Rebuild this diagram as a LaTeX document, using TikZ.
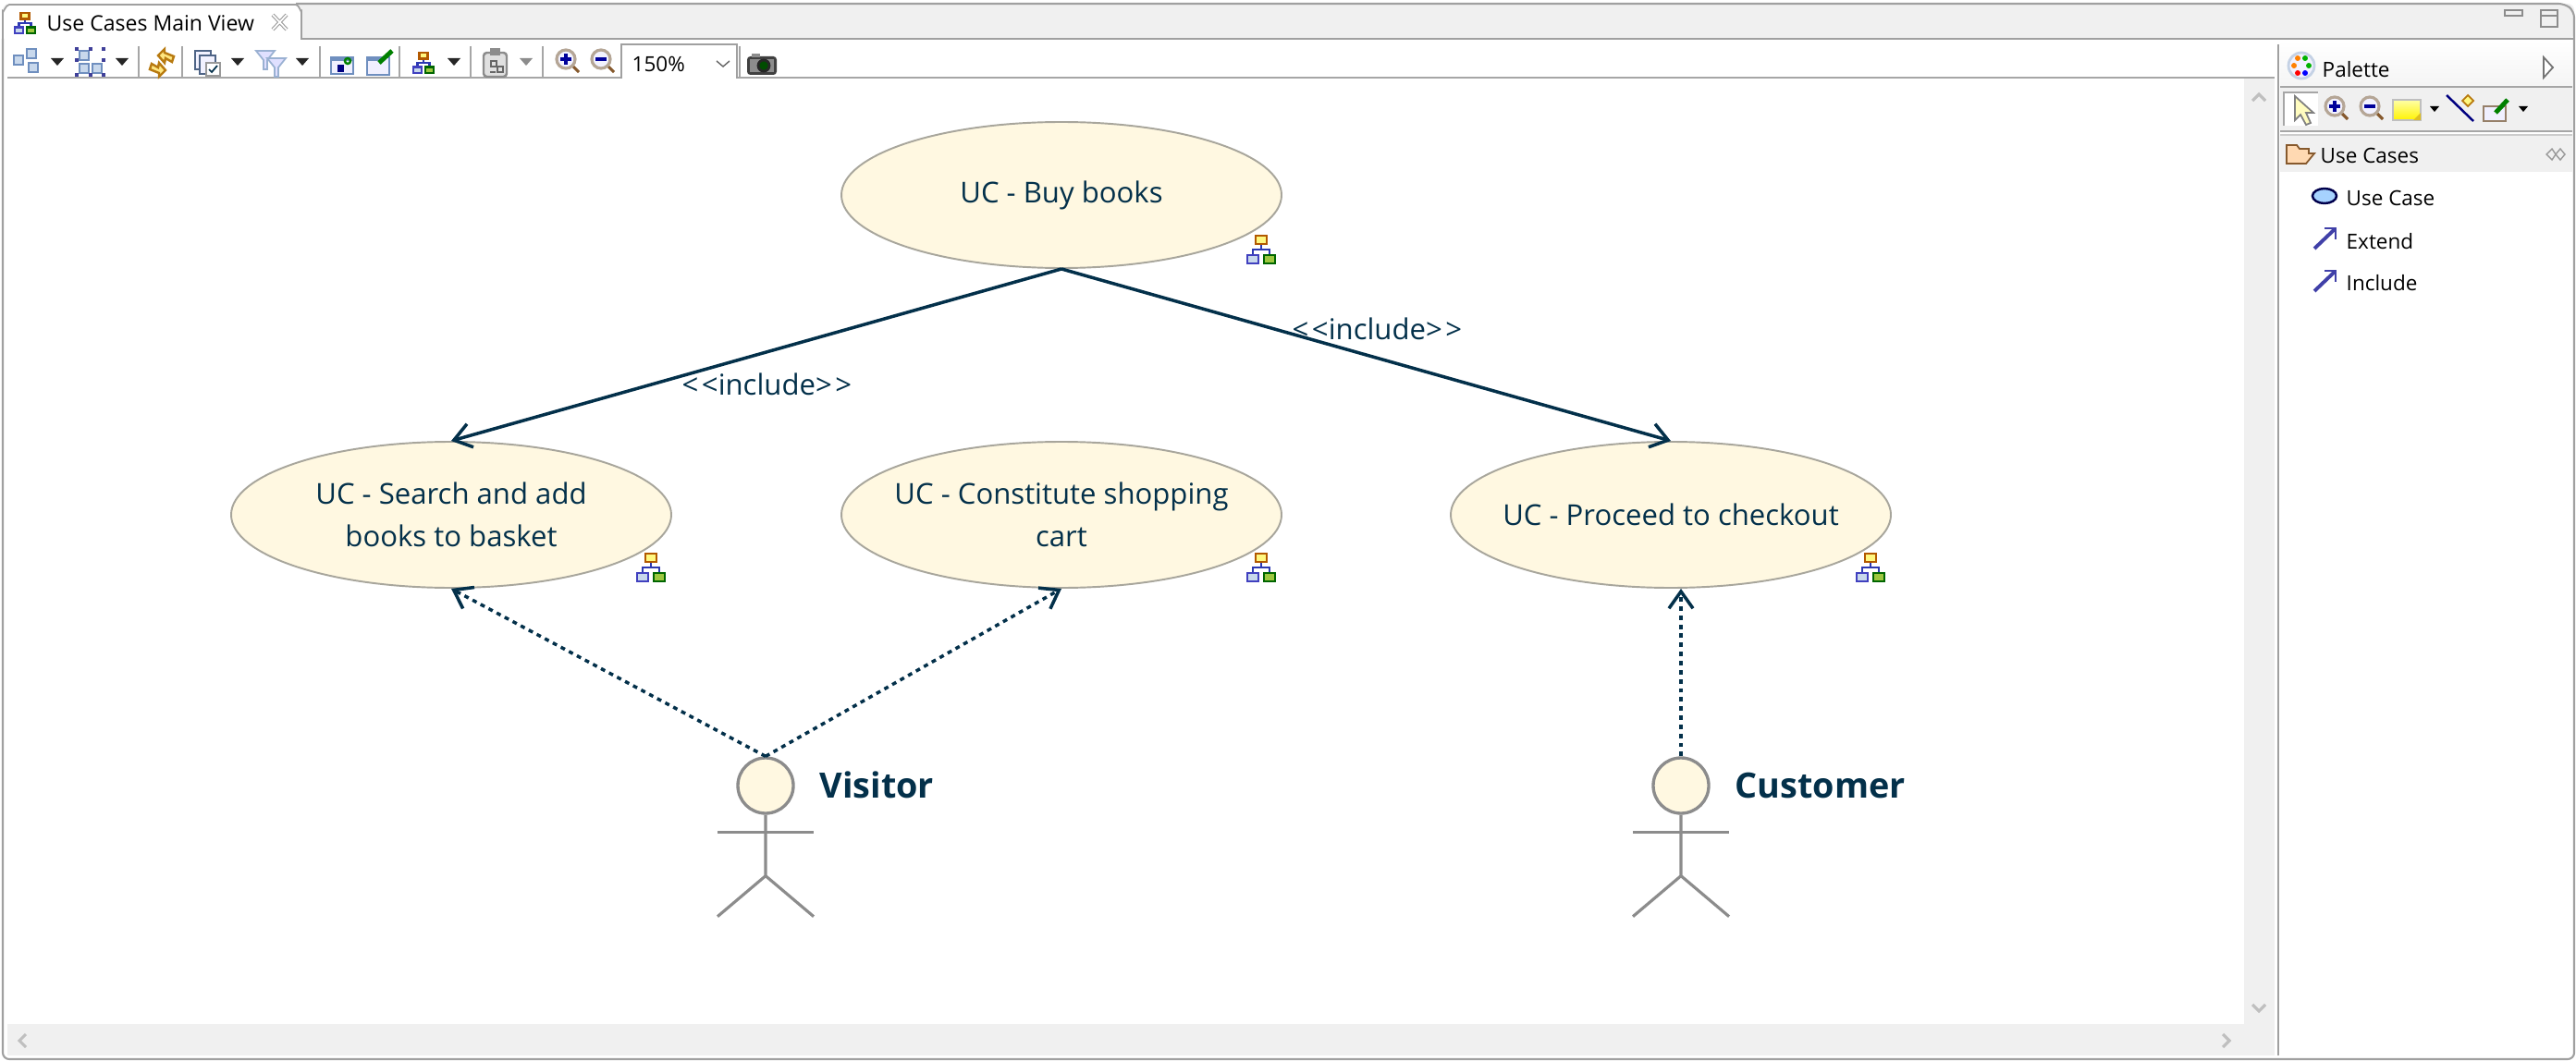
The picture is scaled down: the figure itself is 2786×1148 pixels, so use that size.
\documentclass[tikz,border=0pt]{standalone}
\usepackage{fontspec}
\setmainfont{Open Sans}
\usetikzlibrary{arrows.meta,shapes.geometric}
\definecolor{ink}{HTML}{03304A}
\definecolor{ucfill}{HTML}{FFF8E1}
\definecolor{ucline}{HTML}{A8A69C}
\definecolor{chrome}{HTML}{F0F0F0}
\definecolor{edge}{HTML}{A0A0A0}
\definecolor{iconblue}{HTML}{6F8FBF}
\definecolor{iconfill}{HTML}{C8D8EC}
\definecolor{gold}{HTML}{B87A10}
\definecolor{purple}{HTML}{4040A8}
\tikzset{
  hiertree/.pic={
    \draw[color=iconblue!50!blue!80!black, line width=.6pt] (0,-5) -- (0,0) (-9,6) -- (-9,0) -- (9,0) -- (9,6);
    \draw[draw=orange!70!black, fill=yellow!50, line width=.7pt] (-6,-15) rectangle (6,-6);
    \draw[draw=blue!50!gray, fill=iconfill, line width=.7pt] (-15,6) rectangle (-3,15);
    \draw[draw=green!40!black, fill=yellow!60!green!80!gray, line width=.7pt] (3,6) rectangle (15,15);
  },
  magglass/.pic={
    \draw[brown!70!black, line width=.9pt] (7,7) -- (14,14);
    \draw[color=brown!35!gray!70, fill=blue!5, line width=.9pt] (0,0) circle (10);
  }
}
\begin{document}
\begin{tikzpicture}[x=.1mm, y=-.1mm]
\tikzstyle{uc}=[ellipse, draw=ucline, fill=ucfill, line width=.55pt, inner sep=-2mm, minimum width=47.6mm,
                        minimum height=15.8mm, align=center, text=ink, font=\fontsize{8.85pt}{13pt}\selectfont]
\tikzstyle{lbl}=[anchor=base west, inner sep=0pt, text=ink, font=\fontsize{8.85pt}{10pt}\selectfont]
\tikzstyle{actorlbl}=[anchor=base west, inner sep=0pt, text=ink, font=\fontsize{10.75pt}{12pt}\selectfont\bfseries]
\tikzstyle{ui}=[anchor=base west, inner sep=0pt, text=black, font=\fontsize{6.4pt}{8pt}\selectfont]
\tikzstyle{head}=[circle, draw=black!45, fill=ucfill, line width=.95pt, inner sep=0pt, minimum size=6mm]
\tikzstyle{stick}=[draw=black!45, line width=.9pt]
\tikzstyle{incl}=[draw=ink, line width=1pt, -{Straight Barb[length=5.2pt,width=7.4pt]}]
\tikzstyle{assoc}=[incl, dash pattern=on 1.4pt off 1.4pt]
\tikzstyle{sep}=[draw=black!35, line width=.5pt]
\tikzstyle{chev}=[draw=black!25, line width=.9pt]
\useasboundingbox (0,0) rectangle (2786,1148);
% window frame
\fill[white] (0,0) rectangle (2786,1148);
\fill[chrome, rounded corners=2pt] (3,4) rectangle (2784,42);
\fill[chrome] (8,1108) rectangle (2460,1142);
\fill[chrome] (2427,85) rectangle (2460,1142);
\draw[fill=white, draw=edge, line width=.5pt] (3,42) -- (3,12) to[out=-90, in=180] (10,5) -- (320,5) to[out=0, in=-90] (326,12) -- (326,42) -- (2784,42);
\draw[draw=edge, line width=.6pt, rounded corners=2pt] (3,42) -- (3,1146) -- (2784,1146) -- (2784,12) -- (2774,4) -- (320,4);
\draw[sep] (8,84) -- (672,84) (797,84) -- (2460,84);
\draw[draw=edge, line width=.6pt] (2464,48) -- (2464,1142);
\draw[draw=edge, line width=.5pt, fill=white] (672,85) -- (672,48) -- (797,48) -- (797,85);
% tab
\pic at (27,25) [scale=.72] {hiertree};
\node[ui, font=\fontsize{6.55pt}{8pt}\selectfont] (tabtitle) at (50,34) {Use Cases Main View};
\draw[black!40, line width=1.1pt] (295,16) -- (310,32) (310,16) -- (295,32);
\draw[white, line width=.5pt] (295,16) -- (310,32) (310,16) -- (295,32);
\draw[draw=black!45, line width=.5pt] (2709,11) rectangle (2728,17);
\draw[draw=black!45, line width=.5pt] (2748,11) rectangle (2766,29) (2748,17) -- (2766,17);
% toolbar
\foreach \x in {150,197,346,432,509,587,800}{\draw[sep] (\x,50) -- (\x,83);}
\foreach \x in {62,132,257,327,491}{\fill[black!85] (\x-7,63) -- (\x+7,63) -- (\x,71) -- cycle;}
\fill[black!45] (562,63) -- (576,63) -- (569,71) -- cycle;
\foreach \x/\y in {20/65,34/58,36/73,91/60,91/74,105/74}{\draw[draw=iconblue, fill=iconfill, line width=.6pt] (\x-5,\y-5) rectangle (\x+5,\y+5);}
\foreach \x/\y in {83/53,98/53,112/53,83/65,112/65,83/81,98/81,112/81}{\fill[black!30!blue!50!gray] (\x-2,\y-2) rectangle (\x+2,\y+2);}
\foreach \r in {0,180}{\draw[draw=gold, fill=orange!40!yellow!50, line width=.7pt, rotate around={\r:(175,68)}] (171,60) -- (178,53) -- (178,57) -- (188,61) -- (186,67) -- (179,63) -- (178,68) -- cycle;}
\draw[draw=black!30!iconblue, fill=blue!5, line width=.6pt] (211,55) rectangle (228,75);
\draw[draw=black!30!iconblue, fill=blue!5, line width=.6pt] (216,60) rectangle (233,80);
\draw[draw=black!40, fill=white, line width=.6pt] (223,68) rectangle (238,82);
\draw[draw=ink, line width=.5pt] (226,75) -- (229,78) -- (235,71);
\foreach \x/\y in {287/55,299/63}{\draw[draw=iconblue!70, fill=blue!12, line width=.5pt] (\x-10,\y) -- (\x+10,\y) -- (\x+2,\y+10) -- (\x+2,\y+20) -- (\x-2,\y+20) -- (\x-2,\y+10) -- cycle;}
\draw[draw=iconblue, fill=blue!6, line width=.6pt] (358,62) rectangle (382,80);
\fill[iconblue] (358,62) rectangle (382,66);
\fill[black!50!blue] (365,70) rectangle (372,78);
\draw[draw=green!50!black, line width=.7pt] (376,66) circle (3);
\draw[draw=iconblue, fill=blue!6, line width=.6pt] (397,62) rectangle (421,81);
\fill[iconblue] (397,62) rectangle (415,66);
\draw[green!50!black, line width=1.4pt] (410,68) -- (424,55);
\pic at (458,68) [scale=.72] {hiertree};
\draw[draw=black!45, fill=black!12, line width=.7pt, rounded corners=1pt] (523,57) rectangle (548,83);
\fill[black!45] (530,52) rectangle (541,60);
\draw[draw=black!60, line width=.5pt] (531,66) rectangle (537,72) (538,72) rectangle (544,78) (530,78) -- (536,78);
\node[ui] (zoomlevel) at (683,78) {150\%};
\draw[black!60, line width=.4pt] (775,66) -- (782,72) -- (789,66);
\fill[black!75, rounded corners=1pt] (808,61) rectangle (840,81);
\fill[black!45] (813,58) rectangle (822,62);
\fill[black!45] (811,64) rectangle (837,78);
\draw[draw=black!85, fill=green!30!black, line width=.8pt] (826,71) circle (6);
% scroll arrows
\draw[chev] (2436,109) -- (2443,102) -- (2450,109);
\draw[chev] (2436,1087) -- (2443,1094) -- (2450,1087);
\draw[chev] (2404,1119) -- (2411,1126) -- (2404,1133);
\draw[chev] (28,1119) -- (21,1126) -- (28,1133);
% palette
\shade[top color=white, bottom color=chrome!70] (2466,44) rectangle (2782,93);
\draw[sep] (2466,94) -- (2782,94);
\fill[chrome] (2466,95) rectangle (2782,141);
\draw[sep] (2466,142) -- (2782,142);
\draw[draw=black!20, line width=.4pt] (2466,146) -- (2782,146);
\fill[chrome] (2466,147) rectangle (2782,186);
\draw[draw=iconblue!40, fill=blue!5, line width=.8pt] (2489,71) circle (14);
\foreach \x/\y/\c in {2485/63/orange,2493/63/green!70!black,2481/71/orange,2497/71/green!70!black,2485/79/red,2493/79/blue}{\fill[\c] (\x,\y) circle (3);}
\node[ui] (palettetitle) at (2511,84) {Palette};
\draw[draw=black!55, fill=white, line width=.5pt] (2751,62) -- (2761,73) -- (2751,84) -- cycle;
\fill[white] (2470,100) rectangle (2507,136);
\draw[draw=black!35, line width=.4pt] (2507,100) -- (2470,100) -- (2470,136);
\draw[draw=black!50, fill=yellow!25, line width=.5pt] (2482,104) -- (2482,130) -- (2488,124) -- (2494,135) -- (2499,133) -- (2494,122) -- (2502,122) -- cycle;
% zoom buttons, both toolbars
\foreach \x/\y in {612/64,650/64,2525/115,2563/115}{
  \pic at (\x,\y) {magglass};
  \draw[draw=blue!60!black, line width=.9pt] (\x-6,\y) -- (\x+6,\y);
}
\foreach \x/\y in {612/64,2525/115}{\draw[draw=blue!60!black, line width=.9pt] (\x,\y-6) -- (\x,\y+6);}
\shade[top color=yellow!35, bottom color=yellow!90!orange, draw=black!25, line width=.4pt] (2588,108) rectangle (2618,130);
\fill[brown!50!yellow] (2618,122) -- (2618,130) -- (2610,130) -- cycle;
\foreach \x in {2633,2729}{\fill[black] (\x-5,115) -- (\x+5,115) -- (\x,121) -- cycle;}
\draw[draw=blue!50!black, line width=.7pt] (2646,103) -- (2675,131);
\draw[draw=gold, fill=yellow!50, line width=.5pt] (2669,103) -- (2675,109) -- (2669,115) -- (2663,109) -- cycle;
\draw[draw=brown!35!gray, fill=blue!6, line width=.6pt] (2686,115) rectangle (2710,131);
\draw[green!50!black, line width=1.4pt] (2699,122) -- (2712,108);
\draw[draw=brown!70!black, fill=orange!30, line width=.5pt] (2473,177) -- (2473,157) -- (2484,157) -- (2487,161) -- (2497,161) -- (2497,166) -- (2503,166) -- (2494,177) -- cycle;
\node[ui] (ucgroup) at (2509,177) {Use Cases};
\draw[draw=black!40, line width=.4pt] (2754,167) -- (2760,161) -- (2764,167) -- (2760,173) -- cycle (2764,167) -- (2769,161) -- (2774,167) -- (2769,173) -- cycle;
\draw[draw=black!70!blue, fill=blue!50!cyan!35, line width=.7pt] (2514,212) ellipse (13 and 8);
\node[ui] (toolcase) at (2537,223) {Use Case};
\node[ui] (toolextend) at (2537,269) {Extend};
\node[ui] (toolinclude) at (2537,315) {Include};
\foreach \y in {269,315}{
  \draw[purple, line width=1.1pt] (2503,\y) -- (2525,\y-21);
  \draw[purple, line width=.6pt] (2514,\y-22) -- (2526,\y-22) -- (2526,\y-10);
}
% use cases
\node[uc] (buy) at (1148,211) {UC - Buy books};
\node[uc] (search) at (488,557) {UC - Search and add\\books to basket};
\node[uc] (cart) at (1148,557) {UC - Constitute shopping\\cart};
\node[uc] (checkout) at (1807,557) {UC - Proceed to checkout};
\foreach \x/\y in {1364/270,704/614,1364/614,2023/614}{\pic at (\x,\y) {hiertree};}
% actors
\foreach \i/\x in {visitor/828,customer/1818}{
  \node[head] (\i) at (\x,850) {};
  \draw[stick] (\i.south) -- ++(0,66) -- ++(-52,44) ++(52,-44) -- ++(52,44);
  \draw[stick] (\i.south) ++(-52,19) -- ++(104,0);
}
\node[actorlbl] (visitorlbl) at (886,863) {Visitor};
\node[actorlbl] (customerlbl) at (1876,863) {Customer};
% connectors
\foreach \i/\j in {buy/search,buy/checkout}{\draw[incl] (\i.south) -- (\j.north);}
\foreach \i/\j in {visitor/search,visitor/cart}{\draw[assoc] (\i.north) -- (\j.south);}
\draw[assoc] (customer.north) -- (customer.north |- checkout.south);
\node[lbl] (lblsearch) at (737,427) {<\hspace{1pt}<include>\hspace{1pt}>};
\node[lbl] (lblcheckout) at (1397,367) {<\hspace{1pt}<include>\hspace{1pt}>};
\end{tikzpicture}
\end{document}
